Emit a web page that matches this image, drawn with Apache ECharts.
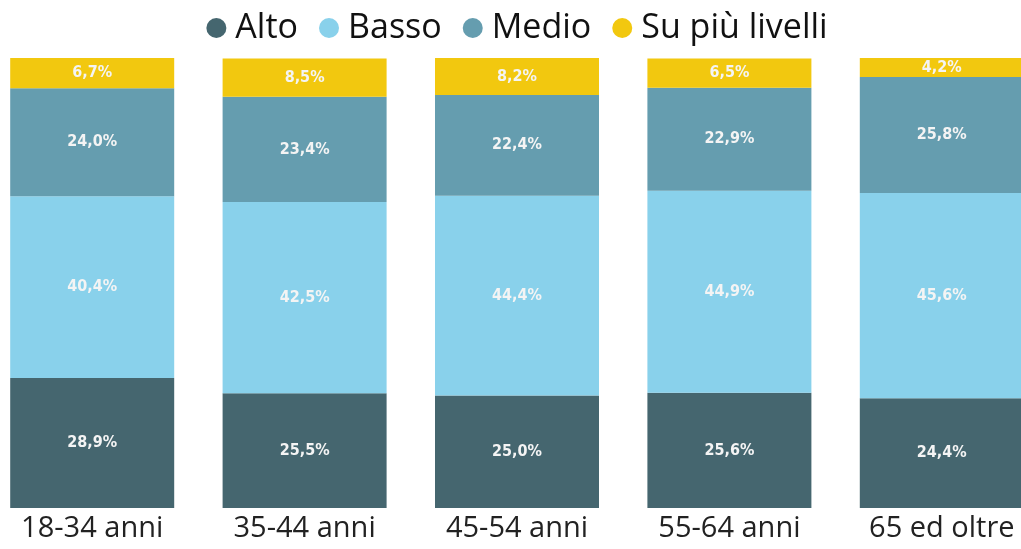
<!DOCTYPE html>
<html><head><meta charset="utf-8">
<script src="https://cdn.jsdelivr.net/npm/echarts@6/dist/echarts.min.js"></script>
<style>html,body{margin:0;padding:0;background:#fff;overflow:hidden;width:1021px;height:549px}#c{position:absolute;left:-14px;top:0;width:1062px;height:549px}</style>
</head><body><div id="c"></div>
<script>
const categories = ['18-34 anni', '35-44 anni', '45-54 anni', '55-64 anni', '65 ed oltre'];
const seriesNames = ['Alto', 'Basso', 'Medio', 'Su più livelli'];
const alto = [28.9, 25.5, 25.0, 25.6, 24.4];
const basso = [40.4, 42.5, 44.4, 44.9, 45.6];
const medio = [24.0, 23.4, 22.4, 22.9, 25.8];
const suPiu = [6.7, 8.5, 8.2, 6.5, 4.2];
const colors = ['#45666F', '#89D1EB', '#659DAF', '#F2C80F'];

const allData = [alto, basso, medio, suPiu];
const chart = echarts.init(document.getElementById('c'));
chart.setOption({
  animation: false,
  legend: {
    top: 6, left: 'center',
    icon: 'circle', itemWidth: 20, itemHeight: 20, itemGap: 21,
    textStyle: { fontFamily: 'Open Sans', fontSize: 34, color: '#111', padding: [0, 0, 0, 4] },
    data: seriesNames
  },
  grid: { left: 0, right: 0, top: 58, bottom: 41, containLabel: false },
  xAxis: {
    type: 'category', data: categories,
    axisLine: { show: false }, axisTick: { show: false },
    axisLabel: { fontFamily: 'Open Sans', fontSize: 29, color: '#222', margin: 6 }
  },
  yAxis: { type: 'value', min: 0, max: 100, show: false, splitLine: { show: false } },
  series: seriesNames.map((n, i) => ({
    name: n, type: 'bar', stack: 'tot', barWidth: 164,
    itemStyle: { color: colors[i] },
    label: {
      show: true, position: 'inside',
      fontFamily: 'DejaVu Sans Condensed', fontWeight: 'bold', fontSize: 16, color: '#f4f4f4',
      formatter: p => p.value.toFixed(1).replace('.', ',') + '%'
    },
    data: allData[i]
  }))
});
</script></body></html>
